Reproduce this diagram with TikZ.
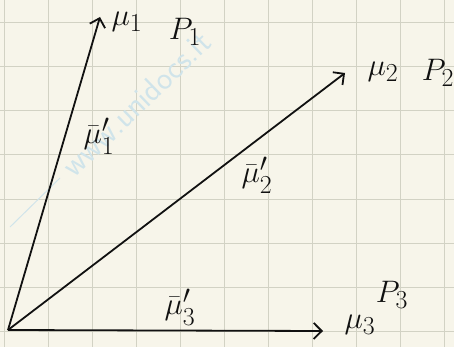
\documentclass[tikz,border=0pt]{standalone}
\usepackage{amsmath, amssymb}
\usepackage{tikz}
\usetikzlibrary{arrows.meta, positioning, calc}
\usepackage{xcolor}
\definecolor{paper}{HTML}{F7F5EA}
\definecolor{gridgrey}{HTML}{D2D2C4}
\definecolor{inkblack}{HTML}{111111}
\definecolor{markblue}{HTML}{D0E4EA}

\begin{document}
\begin{tikzpicture}[x=1pt, y=-1pt,
    vec/.style={-{Straight Barb[length=8pt, width=16pt, line width=1.8pt]},
                inkblack, line width=1.8pt},
    lbl/.style={font=\Huge, scale=1.25, text=inkblack, inner sep=0pt}]
      % paper and squares
      \fill[paper] (0,0) rectangle (454,347);
      \useasboundingbox (0,0) rectangle (454,347);
      \foreach \x in {4,48,...,444}
        \draw[gridgrey, line width=1pt] (\x,0) -- (\x,347);
      \foreach \y in {23,67,...,331}
        \draw[gridgrey, line width=1pt] (0,\y) -- (454,\y);
      % watermark
      \node[font=\sffamily\Huge, scale=1.3, text=markblue, rotate=44]
        (mark) at (136,104) {www.unidocs.it};
      \draw[markblue, line width=1pt] (10,227) -- (60,178);
      % vectors
      \coordinate (O) at (8,330);
      \coordinate (t1) at (100,17);
      \coordinate (t2) at (345,73);
      \coordinate (t3) at (323,331);
      \draw[vec] (O) -- (t1);
      \draw[vec] (O) -- (t2);
      \draw[vec] (O) -- (t3);
      % labels
      \node[lbl] (mu1) at (127,22) {$\mu_1$};
      \node[lbl] (p1) at (185,32) {$P_1$};
      \node[lbl] (mu2) at (383,72) {$\mu_2$};
      \node[lbl] (p2) at (438,73) {$P_2$};
      \node[lbl] (mu3) at (360,325) {$\mu_3$};
      \node[lbl] (p3) at (392,295) {$P_3$};
      \node[lbl] (v1) at (99,136) {$\bar{\mu}'_1$};
      \node[lbl] (v2) at (257,175) {$\bar{\mu}'_2$};
      \node[lbl] (v3) at (180,307) {$\bar{\mu}'_3$};
    \end{tikzpicture}
\end{document}
